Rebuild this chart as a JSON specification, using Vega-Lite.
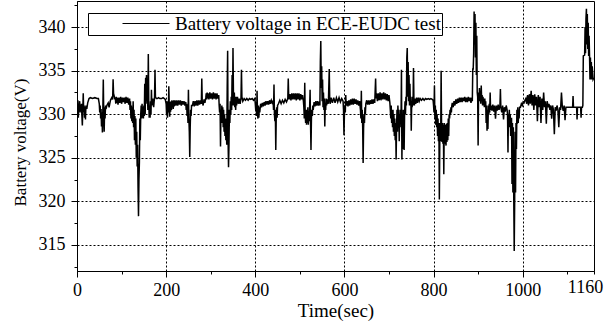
{
"$schema": "https://vega.github.io/schema/vega-lite/v6.json",
"width": 517, "height": 270,
"autosize": {"type": "none"},
"padding": {"left": 77, "top": 1, "right": 21, "bottom": 56},
"background": "white",
"data": {"values": [
{"t":0,"v":331.5},{"t":1,"v":330.8},{"t":2,"v":331.6},{"t":3,"v":329.6},{"t":4,"v":331.2},{"t":5,"v":330.6},{"t":6,"v":331.5},{"t":7,"v":330.2},{"t":8,"v":331.0},{"t":9,"v":330.4},{"t":10,"v":331.2},{"t":11,"v":329.8},{"t":12,"v":328.7},{"t":13,"v":330.5},{"t":14,"v":332.4},{"t":15,"v":330.3},{"t":16,"v":331.0},{"t":17,"v":329.6},{"t":18,"v":330.8},{"t":19,"v":329.4},{"t":20,"v":331.0},{"t":22,"v":330.6},{"t":24,"v":331.3},{"t":27,"v":331.8},{"t":30,"v":331.9},{"t":35,"v":331.8},{"t":40,"v":331.9},{"t":45,"v":331.8},{"t":48,"v":331.8},
{"t":50,"v":331.2},{"t":51,"v":330.2},{"t":52,"v":331.0},{"t":53,"v":329.5},{"t":54,"v":330.6},{"t":55,"v":328.6},{"t":56,"v":330.2},{"t":57,"v":327.9},{"t":58,"v":330.5},{"t":59,"v":334.0},{"t":60,"v":330.0},{"t":61,"v":328.0},{"t":62,"v":330.8},{"t":63,"v":329.5},{"t":64,"v":331.0},{"t":65,"v":330.6},{"t":67,"v":331.0},{"t":70,"v":331.3},{"t":72,"v":330.8},{"t":75,"v":331.6},{"t":78,"v":331.9},{"t":80,"v":331.7},{"t":81,"v":334.0},{"t":82,"v":332.4},{"t":83,"v":332.2},{"t":85,"v":331.7},
{"t":86,"v":331.9},{"t":87,"v":331.2},{"t":88,"v":332.0},{"t":89,"v":331.3},{"t":90,"v":331.9},{"t":92,"v":331.1},{"t":94,"v":331.9},{"t":96,"v":331.3},{"t":98,"v":332.0},{"t":100,"v":331.2},{"t":102,"v":331.9},{"t":104,"v":331.4},{"t":106,"v":331.9},{"t":108,"v":331.2},{"t":110,"v":332.0},{"t":112,"v":331.3},{"t":114,"v":331.9},{"t":116,"v":331.1},{"t":118,"v":331.8},
{"t":119,"v":330.5},{"t":120,"v":331.5},{"t":121,"v":329.5},{"t":122,"v":331.0},{"t":123,"v":329.2},{"t":124,"v":330.8},{"t":125,"v":329.0},{"t":126,"v":331.5},{"t":127,"v":328.5},{"t":128,"v":330.5},{"t":129,"v":327.0},{"t":130,"v":329.8},{"t":131,"v":326.5},{"t":132,"v":329.5},{"t":133,"v":325.0},{"t":134,"v":328.0},{"t":135,"v":324.0},{"t":136,"v":326.5},{"t":137,"v":321.5},{"t":138,"v":318.3},{"t":139,"v":322.5},{"t":140,"v":324.5},{"t":141,"v":329.5},{"t":142,"v":327.0},{"t":143,"v":330.0},
{"t":144,"v":331.0},{"t":145,"v":329.5},{"t":146,"v":331.2},{"t":147,"v":329.6},{"t":148,"v":330.8},{"t":149,"v":329.5},{"t":150,"v":331.0},{"t":151,"v":329.8},{"t":152,"v":333.5},{"t":153,"v":330.0},{"t":154,"v":334.2},{"t":155,"v":331.5},{"t":156,"v":334.5},{"t":157,"v":331.2},{"t":158,"v":333.0},{"t":159,"v":330.5},{"t":160,"v":336.9},{"t":161,"v":331.5},{"t":162,"v":329.6},{"t":163,"v":331.0},{"t":164,"v":329.6},{"t":165,"v":331.5},{"t":166,"v":330.0},{"t":167,"v":332.8},{"t":168,"v":331.0},{"t":170,"v":331.8},{"t":172,"v":330.8},{"t":174,"v":332.0},{"t":175,"v":335.1},{"t":176,"v":332.0},{"t":178,"v":331.8},
{"t":180,"v":331.8},{"t":183,"v":331.9},{"t":186,"v":331.8},{"t":190,"v":331.8},{"t":193,"v":331.9},{"t":196,"v":331.8},{"t":198,"v":331.7},
{"t":200,"v":331.2},{"t":201,"v":330.0},{"t":202,"v":331.5},{"t":203,"v":329.6},{"t":204,"v":331.2},{"t":205,"v":330.2},{"t":206,"v":333.2},{"t":207,"v":331.0},{"t":208,"v":329.7},{"t":209,"v":331.4},{"t":210,"v":330.3},{"t":211,"v":331.5},{"t":212,"v":330.5},{"t":213,"v":331.6},{"t":214,"v":330.8},{"t":215,"v":331.5},{"t":216,"v":330.6},{"t":217,"v":331.6},{"t":218,"v":330.9},{"t":220,"v":331.6},{"t":222,"v":331.0},{"t":224,"v":331.6},{"t":226,"v":331.0},{"t":228,"v":331.6},{"t":230,"v":331.1},{"t":232,"v":331.6},{"t":234,"v":331.0},{"t":236,"v":331.5},{"t":238,"v":331.1},{"t":240,"v":331.5},{"t":242,"v":331.0},{"t":244,"v":331.4},
{"t":245,"v":330.5},{"t":246,"v":331.2},{"t":247,"v":329.8},{"t":248,"v":330.8},{"t":249,"v":329.0},{"t":250,"v":332.8},{"t":251,"v":329.5},{"t":252,"v":328.0},{"t":253,"v":325.1},{"t":254,"v":328.5},{"t":255,"v":330.5},{"t":256,"v":329.8},{"t":257,"v":331.0},
{"t":259,"v":331.0},{"t":261,"v":331.5},{"t":263,"v":330.9},{"t":265,"v":331.5},{"t":267,"v":331.0},{"t":269,"v":331.6},{"t":271,"v":331.0},{"t":273,"v":331.6},{"t":275,"v":331.1},{"t":277,"v":331.6},{"t":279,"v":331.2},{"t":280,"v":334.1},{"t":281,"v":331.5},{"t":283,"v":331.0},{"t":285,"v":331.7},{"t":287,"v":331.3},{"t":289,"v":331.9},
{"t":290,"v":332.4},{"t":291,"v":331.7},{"t":292,"v":332.5},{"t":293,"v":331.8},{"t":294,"v":332.4},{"t":296,"v":331.7},{"t":298,"v":332.5},{"t":300,"v":331.8},{"t":302,"v":332.4},{"t":304,"v":331.7},{"t":306,"v":332.5},{"t":308,"v":331.8},{"t":310,"v":332.4},{"t":312,"v":331.7},{"t":314,"v":332.4},{"t":316,"v":331.8},{"t":318,"v":332.2},
{"t":319,"v":331.0},{"t":320,"v":330.2},{"t":321,"v":331.2},{"t":322,"v":326.3},{"t":323,"v":330.5},{"t":324,"v":329.5},{"t":325,"v":331.0},{"t":326,"v":329.0},{"t":327,"v":330.8},{"t":328,"v":328.5},{"t":329,"v":330.5},{"t":330,"v":328.0},{"t":331,"v":330.0},{"t":332,"v":327.5},{"t":333,"v":329.5},{"t":334,"v":327.0},{"t":335,"v":329.0},{"t":336,"v":326.5},{"t":337,"v":333.0},{"t":338,"v":337.3},{"t":339,"v":327.0},{"t":340,"v":323.9},{"t":341,"v":326.5},{"t":342,"v":330.5},{"t":343,"v":329.0},{"t":344,"v":331.5},{"t":345,"v":330.0},{"t":346,"v":332.0},{"t":347,"v":330.5},{"t":348,"v":334.5},{"t":349,"v":331.0},{"t":350,"v":337.6},{"t":351,"v":332.5},{"t":352,"v":331.0},{"t":353,"v":332.5},{"t":354,"v":330.8},{"t":355,"v":332.0},{"t":356,"v":330.5},{"t":357,"v":332.0},
{"t":358,"v":331.0},{"t":360,"v":332.0},{"t":362,"v":331.2},{"t":364,"v":331.8},{"t":366,"v":331.2},{"t":368,"v":331.9},{"t":369,"v":335.1},{"t":370,"v":332.0},{"t":372,"v":331.5},{"t":375,"v":331.8},{"t":378,"v":331.6},{"t":381,"v":331.8},{"t":384,"v":331.6},{"t":387,"v":331.8},{"t":390,"v":331.7},{"t":393,"v":331.8},{"t":396,"v":331.6},{"t":399,"v":331.8},
{"t":400,"v":331.2},{"t":401,"v":330.5},{"t":402,"v":331.4},{"t":403,"v":329.8},{"t":404,"v":332.7},{"t":405,"v":330.0},{"t":406,"v":329.5},{"t":407,"v":331.0},{"t":408,"v":329.6},{"t":409,"v":330.8},{"t":410,"v":330.2},{"t":412,"v":331.2},{"t":414,"v":330.8},{"t":416,"v":331.3},{"t":418,"v":330.9},{"t":420,"v":331.4},{"t":422,"v":331.0},{"t":424,"v":331.5},{"t":426,"v":331.1},{"t":428,"v":331.5},{"t":430,"v":331.1},{"t":432,"v":331.6},{"t":434,"v":331.2},{"t":436,"v":331.6},{"t":438,"v":331.3},{"t":440,"v":331.5},
{"t":441,"v":330.5},{"t":442,"v":333.4},{"t":443,"v":330.0},{"t":444,"v":329.2},{"t":445,"v":330.5},{"t":446,"v":325.9},{"t":447,"v":329.5},{"t":448,"v":330.8},{"t":449,"v":329.6},{"t":450,"v":331.0},
{"t":452,"v":331.2},{"t":455,"v":331.6},{"t":458,"v":331.2},{"t":461,"v":331.6},{"t":464,"v":331.3},{"t":467,"v":331.7},{"t":470,"v":331.4},{"t":473,"v":331.8},{"t":474,"v":334.1},{"t":475,"v":332.0},
{"t":476,"v":331.7},{"t":478,"v":332.3},{"t":480,"v":331.6},{"t":482,"v":332.4},{"t":484,"v":331.7},{"t":486,"v":332.4},{"t":488,"v":331.7},{"t":490,"v":332.4},{"t":492,"v":331.6},{"t":494,"v":332.4},{"t":496,"v":331.7},{"t":498,"v":332.4},{"t":500,"v":331.6},{"t":502,"v":332.3},{"t":504,"v":331.7},{"t":506,"v":332.2},{"t":508,"v":331.5},
{"t":509,"v":330.8},{"t":510,"v":329.5},{"t":511,"v":333.6},{"t":512,"v":330.0},{"t":513,"v":329.0},{"t":514,"v":330.5},{"t":515,"v":328.8},{"t":516,"v":330.5},{"t":517,"v":329.0},{"t":518,"v":330.8},{"t":519,"v":328.8},{"t":520,"v":330.3},{"t":521,"v":329.2},{"t":522,"v":330.8},{"t":523,"v":332.8},{"t":524,"v":329.0},{"t":525,"v":325.9},{"t":526,"v":329.5},{"t":527,"v":330.5},{"t":528,"v":329.8},{"t":529,"v":331.0},{"t":530,"v":330.5},
{"t":532,"v":331.4},{"t":534,"v":330.9},{"t":536,"v":331.5},{"t":538,"v":331.0},{"t":540,"v":331.5},{"t":542,"v":331.0},{"t":544,"v":331.4},
{"t":545,"v":331.0},{"t":546,"v":336.0},{"t":547,"v":338.4},{"t":548,"v":333.0},{"t":549,"v":335.5},{"t":550,"v":331.5},{"t":551,"v":334.0},{"t":552,"v":330.8},{"t":553,"v":332.5},{"t":554,"v":330.5},{"t":555,"v":331.8},{"t":556,"v":328.6},{"t":557,"v":331.0},{"t":558,"v":330.5},{"t":559,"v":331.8},{"t":560,"v":331.0},{"t":562,"v":331.7},{"t":564,"v":331.2},{"t":566,"v":335.2},{"t":567,"v":331.8},{"t":568,"v":331.2},
{"t":570,"v":331.9},{"t":573,"v":331.3},{"t":576,"v":331.9},{"t":579,"v":331.3},{"t":582,"v":331.9},{"t":585,"v":331.4},{"t":588,"v":331.9},{"t":591,"v":331.4},{"t":594,"v":331.8},{"t":597,"v":331.5},
{"t":598,"v":330.5},{"t":599,"v":327.6},{"t":600,"v":330.0},{"t":601,"v":331.0},{"t":602,"v":330.2},{"t":603,"v":332.2},{"t":604,"v":331.0},
{"t":606,"v":331.5},{"t":608,"v":330.9},{"t":610,"v":331.6},{"t":612,"v":331.0},{"t":614,"v":331.7},{"t":616,"v":331.1},{"t":618,"v":331.8},{"t":620,"v":331.1},{"t":622,"v":331.8},{"t":624,"v":331.2},{"t":626,"v":331.7},{"t":628,"v":331.1},{"t":630,"v":331.6},{"t":632,"v":331.0},{"t":634,"v":331.5},{"t":636,"v":330.5},
{"t":637,"v":329.5},{"t":638,"v":332.7},{"t":639,"v":329.0},{"t":640,"v":330.5},{"t":641,"v":328.5},{"t":642,"v":324.4},{"t":643,"v":328.4},{"t":644,"v":330.0},{"t":645,"v":329.0},{"t":646,"v":330.8},{"t":647,"v":330.0},{"t":648,"v":331.2},
{"t":650,"v":331.6},{"t":652,"v":331.1},{"t":654,"v":331.6},{"t":656,"v":331.1},{"t":658,"v":331.6},{"t":660,"v":331.2},{"t":662,"v":331.7},{"t":664,"v":331.2},{"t":666,"v":331.7},{"t":668,"v":331.3},{"t":670,"v":334.1},{"t":671,"v":331.8},
{"t":672,"v":332.4},{"t":674,"v":331.5},{"t":676,"v":332.4},{"t":678,"v":331.6},{"t":680,"v":332.5},{"t":682,"v":331.6},{"t":684,"v":332.4},{"t":686,"v":331.7},{"t":688,"v":332.5},{"t":690,"v":331.7},{"t":692,"v":332.4},{"t":694,"v":331.6},{"t":696,"v":332.3},{"t":698,"v":331.5},{"t":700,"v":332.2},{"t":702,"v":331.3},
{"t":703,"v":330.5},{"t":704,"v":329.5},{"t":705,"v":331.0},{"t":706,"v":329.0},{"t":707,"v":330.5},{"t":708,"v":328.5},{"t":709,"v":330.5},{"t":710,"v":328.0},{"t":711,"v":330.0},{"t":712,"v":327.5},{"t":713,"v":329.5},{"t":714,"v":327.0},{"t":715,"v":329.0},{"t":716,"v":324.8},{"t":717,"v":328.5},{"t":718,"v":330.5},{"t":719,"v":328.0},{"t":720,"v":331.0},{"t":721,"v":329.5},{"t":722,"v":330.5},{"t":723,"v":326.9},{"t":724,"v":330.0},{"t":725,"v":328.5},{"t":726,"v":330.5},{"t":727,"v":329.0},{"t":728,"v":335.1},{"t":729,"v":324.8},{"t":730,"v":329.5},{"t":731,"v":326.0},{"t":732,"v":330.5},{"t":733,"v":328.0},{"t":734,"v":325.9},{"t":735,"v":330.0},{"t":736,"v":331.5},{"t":737,"v":330.0},{"t":738,"v":332.0},{"t":739,"v":331.0},{"t":740,"v":336.5},{"t":741,"v":337.6},{"t":742,"v":332.0},{"t":743,"v":336.0},{"t":744,"v":331.5},{"t":745,"v":334.5},{"t":746,"v":331.0},{"t":747,"v":333.5},{"t":748,"v":331.0},{"t":749,"v":332.0},{"t":750,"v":328.1},{"t":751,"v":331.5},{"t":752,"v":330.8},{"t":753,"v":332.0},{"t":754,"v":331.0},{"t":755,"v":335.3},{"t":756,"v":331.5},{"t":757,"v":331.0},
{"t":758,"v":331.8},{"t":760,"v":331.2},{"t":762,"v":331.9},{"t":764,"v":331.3},{"t":766,"v":331.9},{"t":768,"v":331.5},{"t":770,"v":331.8},{"t":773,"v":331.6},{"t":776,"v":331.8},{"t":779,"v":331.6},{"t":782,"v":331.8},{"t":785,"v":331.7},{"t":788,"v":331.8},{"t":791,"v":331.7},{"t":794,"v":331.8},{"t":797,"v":331.7},{"t":799,"v":331.6},
{"t":800,"v":331.0},{"t":801,"v":330.2},{"t":802,"v":333.3},{"t":803,"v":329.5},{"t":804,"v":331.0},{"t":805,"v":328.8},{"t":806,"v":330.5},{"t":807,"v":328.5},{"t":808,"v":330.0},{"t":809,"v":327.5},{"t":810,"v":329.5},{"t":811,"v":326.9},{"t":812,"v":329.0},{"t":813,"v":320.2},{"t":814,"v":327.0},{"t":815,"v":329.0},{"t":816,"v":326.9},{"t":817,"v":335.0},{"t":818,"v":328.5},
{"t":819,"v":326.8},{"t":820,"v":329.0},{"t":821,"v":326.6},{"t":822,"v":328.8},{"t":823,"v":323.1},{"t":824,"v":329.0},{"t":825,"v":326.6},{"t":826,"v":328.8},{"t":827,"v":327.0},{"t":828,"v":326.4},{"t":829,"v":328.9},{"t":830,"v":326.8},{"t":831,"v":329.0},{"t":832,"v":327.0},{"t":833,"v":329.5},{"t":834,"v":327.5},
{"t":835,"v":330.0},{"t":836,"v":329.5},{"t":837,"v":330.5},{"t":838,"v":330.0},{"t":839,"v":330.8},{"t":840,"v":330.2},{"t":841,"v":331.0},
{"t":842,"v":331.3},{"t":844,"v":330.8},{"t":846,"v":331.5},{"t":848,"v":331.0},{"t":850,"v":331.7},{"t":852,"v":331.2},{"t":854,"v":331.8},{"t":856,"v":331.3},{"t":858,"v":331.9},{"t":860,"v":331.4},{"t":862,"v":331.9},{"t":864,"v":331.4},{"t":866,"v":331.9},{"t":868,"v":331.5},{"t":870,"v":332.0},{"t":872,"v":331.4},{"t":874,"v":331.9},{"t":876,"v":331.4},{"t":878,"v":332.0},{"t":880,"v":331.5},{"t":882,"v":331.9},{"t":884,"v":331.3},{"t":886,"v":331.9},{"t":887,"v":331.5},
{"t":888,"v":335.2},{"t":889,"v":335.2},{"t":890,"v":337.0},{"t":891,"v":341.8},{"t":892,"v":338.0},{"t":893,"v":341.5},{"t":894,"v":336.5},{"t":895,"v":340.5},{"t":896,"v":334.5},{"t":897,"v":339.0},{"t":898,"v":332.5},
{"t":899,"v":332.0},{"t":900,"v":326.4},{"t":901,"v":332.5},{"t":902,"v":331.5},{"t":903,"v":333.0},
{"t":904,"v":331.5},{"t":905,"v":332.3},{"t":906,"v":331.2},{"t":907,"v":333.3},{"t":908,"v":331.5},{"t":909,"v":332.2},{"t":910,"v":331.0},{"t":911,"v":332.0},{"t":912,"v":331.0},{"t":913,"v":331.8},{"t":914,"v":330.8},{"t":915,"v":331.8},{"t":916,"v":330.8},{"t":917,"v":331.5},
{"t":918,"v":329.0},{"t":919,"v":331.0},{"t":920,"v":328.1},{"t":921,"v":330.5},{"t":922,"v":328.3},{"t":923,"v":331.0},{"t":924,"v":330.0},{"t":925,"v":331.2},{"t":926,"v":330.2},{"t":927,"v":332.5},{"t":928,"v":330.5},
{"t":929,"v":331.0},{"t":931,"v":330.4},{"t":933,"v":331.1},{"t":935,"v":330.3},{"t":937,"v":331.0},{"t":939,"v":329.5},{"t":941,"v":331.0},{"t":943,"v":330.4},{"t":945,"v":331.1},{"t":947,"v":330.5},{"t":949,"v":331.0},{"t":950,"v":332.9},{"t":951,"v":330.8},{"t":953,"v":330.2},{"t":955,"v":331.0},{"t":957,"v":329.4},{"t":959,"v":330.8},{"t":961,"v":330.3},{"t":963,"v":331.0},{"t":965,"v":330.5},
{"t":966,"v":330.0},{"t":967,"v":325.6},{"t":968,"v":330.0},{"t":969,"v":329.0},{"t":970,"v":330.5},{"t":971,"v":328.5},{"t":972,"v":330.0},{"t":973,"v":327.5},{"t":974,"v":329.5},
{"t":975,"v":329.5},{"t":976,"v":322.0},{"t":977,"v":329.0},{"t":978,"v":321.0},{"t":979,"v":328.5},{"t":980,"v":320.2},{"t":981,"v":314.3},{"t":982,"v":320.0},{"t":983,"v":328.0},{"t":984,"v":321.0},{"t":985,"v":329.0},{"t":986,"v":326.0},
{"t":987,"v":330.5},{"t":988,"v":328.9},{"t":989,"v":330.8},{"t":990,"v":329.0},{"t":991,"v":330.5},{"t":992,"v":329.5},{"t":993,"v":330.8},{"t":995,"v":330.8},{"t":997,"v":331.2},{"t":999,"v":331.0},{"t":1001,"v":331.4},{"t":1003,"v":331.3},{"t":1005,"v":331.6},
{"t":1007,"v":331.8},{"t":1009,"v":331.2},{"t":1011,"v":332.2},{"t":1013,"v":331.0},{"t":1015,"v":332.3},{"t":1017,"v":331.2},{"t":1019,"v":332.7},{"t":1021,"v":331.0},{"t":1023,"v":332.2},{"t":1025,"v":330.5},{"t":1027,"v":332.3},{"t":1029,"v":331.0},{"t":1031,"v":332.0},{"t":1033,"v":329.2},{"t":1035,"v":332.2},{"t":1037,"v":330.8},{"t":1039,"v":332.0},{"t":1041,"v":329.0},{"t":1043,"v":331.8},{"t":1045,"v":330.5},{"t":1047,"v":332.5},{"t":1049,"v":330.8},{"t":1051,"v":331.5},{"t":1053,"v":328.9},{"t":1055,"v":331.5},{"t":1057,"v":330.8},{"t":1059,"v":331.2},
{"t":1061,"v":330.5},{"t":1063,"v":331.0},{"t":1065,"v":329.5},{"t":1067,"v":331.0},{"t":1069,"v":330.5},{"t":1071,"v":327.7},{"t":1073,"v":330.8},{"t":1075,"v":330.4},{"t":1077,"v":331.0},{"t":1079,"v":330.5},{"t":1081,"v":328.5},{"t":1083,"v":330.8},{"t":1085,"v":330.5},{"t":1087,"v":332.5},{"t":1089,"v":330.8},{"t":1091,"v":330.4},{"t":1093,"v":331.0},{"t":1095,"v":329.3},{"t":1097,"v":330.8},
{"t":1100,"v":330.8},{"t":1104,"v":330.8},{"t":1108,"v":330.8},{"t":1112,"v":330.8},{"t":1113,"v":332.1},{"t":1114,"v":330.8},{"t":1118,"v":330.8},{"t":1121,"v":330.8},{"t":1122,"v":329.4},{"t":1123,"v":330.8},{"t":1127,"v":330.8},{"t":1130,"v":330.8},{"t":1131,"v":329.6},{"t":1132,"v":330.8},{"t":1134,"v":330.8},
{"t":1135,"v":331.0},{"t":1136,"v":336.7},{"t":1139,"v":336.8},{"t":1140,"v":340.0},{"t":1141,"v":337.0},{"t":1142,"v":341.0},{"t":1143,"v":342.1},{"t":1144,"v":338.0},{"t":1145,"v":341.5},{"t":1146,"v":337.5},{"t":1147,"v":340.5},{"t":1148,"v":336.7},{"t":1149,"v":339.0},{"t":1150,"v":336.7},{"t":1151,"v":334.0},{"t":1152,"v":336.5},{"t":1153,"v":334.0},{"t":1154,"v":336.0},{"t":1155,"v":334.0},{"t":1156,"v":335.5},{"t":1158,"v":334.0},{"t":1160,"v":334.2}
]},
"mark": {"type": "line", "strokeWidth": 1.5, "interpolate": "linear", "clip": true},
"encoding": {
  "x": {"field": "t", "type": "quantitative", "scale": {"domain": [0, 1160], "nice": false, "zero": false},
    "axis": {"title": "Time(sec)", "titleFontSize": 19, "values": [0,100,200,300,400,500,600,700,800,900,1000,1100,1160], "format": "d",
      "labelExpr": "datum.value % 200 == 0 || datum.value == 1160 ? datum.label : ''",
      "tickSize": {"condition": {"test": "datum.value % 200 != 0", "value": 3}, "value": 6},
      "gridOpacity": {"condition": {"test": "datum.value % 200 != 0 || datum.value == 0", "value": 0}, "value": 1},
      "labelOffset": {"condition": {"test": "datum.value == 1160", "value": -9}, "value": 0},
      "labelPadding": 4, "titlePadding": 2, "labelFlush": false, "labelOverlap": false}},
  "y": {"field": "v", "type": "quantitative", "scale": {"domain": [312, 343], "nice": false, "zero": false},
    "axis": {"title": "Battery voltage(V)", "titleFontSize": 17, "titleY": 141, "values": [312.5,315,317.5,320,322.5,325,327.5,330,332.5,335,337.5,340,342.5], "format": "d",
      "labelExpr": "datum.value % 5 == 0 ? datum.label : ''",
      "tickSize": {"condition": {"test": "datum.value % 5 != 0", "value": 3}, "value": 6},
      "gridOpacity": {"condition": {"test": "datum.value % 5 != 0", "value": 0}, "value": 1},
      "labelPadding": 6, "titlePadding": 9, "labelFlush": false, "labelOverlap": false}},
  "color": {"datum": "Battery voltage in ECE-EUDC test", "type": "nominal", "scale": {"range": ["black"]},
    "legend": {"orient": "none", "legendX": 11, "legendY": 12, "title": null, "strokeColor": "black", "fillColor": "white", "padding": 1, "symbolType": "M-4.7,0H4.7", "symbolSize": 100, "symbolStrokeWidth": 1, "symbolOffset": 47.5, "labelOffset": 19.5, "labelLimit": 500, "labelFont": "Liberation Serif", "labelFontSize": 19, "labelColor": "black", "cornerRadius": 0}}
},
"config": {
  "view": {"stroke": "black", "strokeWidth": 1},
  "axis": {"labelFont": "Liberation Serif", "titleFont": "Liberation Serif", "labelColor": "black", "titleColor": "black", "labelFontSize": 18, "titleFontWeight": "normal", "domainColor": "black", "tickColor": "black", "gridColor": "black", "gridDash": [2, 2], "gridWidth": 1, "grid": true}
}
}
